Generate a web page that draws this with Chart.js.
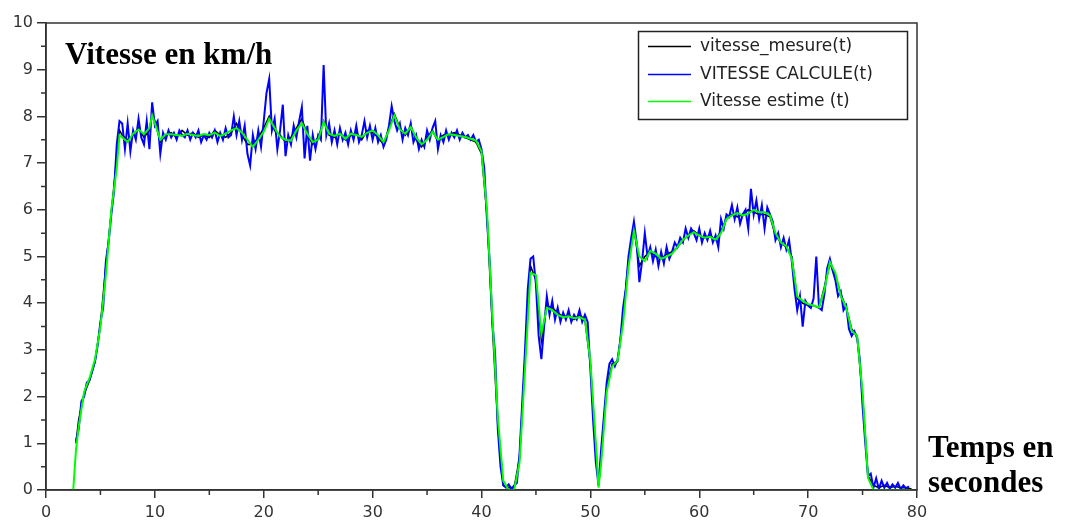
<!DOCTYPE html>
<html lang="fr">
<head>
<meta charset="UTF-8">
<title>Vitesse en km/h</title>
<style>
  html, body { margin: 0; padding: 0; background: #fff; }
</style>
</head>
<body>

<canvas id="myChart" width="1065" height="521"></canvas>

<script src="https://cdn.jsdelivr.net/npm/chart.js@4.4.1/dist/chart.umd.min.js"></script>
<script>
// temps (s) pour vitesse_mesure et Vitesse estime
var timeCoarse = [
  2.5, 2.75, 3, 3.5, 4, 4.5, 5, 5.5, 6, 6.5, 6.75, 7, 7.5, 8, 8.5, 9, 9.5, 9.75, 10,
  10.5, 11, 11.5, 12, 12.5, 13, 13.5, 14, 14.5, 15, 15.5, 16, 16.5, 17, 17.5, 18, 18.5, 19, 19.5, 20,
  20.5, 21, 21.5, 22, 22.5, 23, 23.5, 24, 24.5, 25, 25.5, 26, 26.5, 27, 27.5, 28, 28.5, 29, 29.5, 30,
  30.5, 31, 31.5, 32, 32.5, 33, 33.5, 34, 34.5, 35, 35.5, 36, 36.5, 37, 37.5, 38, 38.5, 39, 39.5, 40,
  40.5, 41, 41.5, 42, 42.5, 43, 43.5, 44, 44.5, 45, 45.5, 46, 46.5, 47, 47.5, 48, 48.5, 49, 49.5, 50,
  50.5, 50.75, 51, 51.5, 52, 52.5, 53, 53.5, 54, 54.5, 55, 55.5, 56, 56.5, 57, 57.5, 58, 58.5, 59, 59.5, 60,
  60.5, 61, 61.5, 62, 62.5, 63, 63.5, 64, 64.5, 65, 65.5, 66, 66.5, 67, 67.5, 68, 68.5, 69, 69.5, 70,
  70.5, 71, 71.5, 72, 72.5, 73, 73.5, 74, 74.5, 75, 75.5, 76, 76.5, 77, 77.5, 78, 78.5, 79, 79.5
];

var vitesseMesure = [
  null, 1.0, 1.5, 2.05, 2.35, 2.75, 3.55, 4.8, 5.95, 7.1, 7.7, 7.6, 7.5, 7.6, 7.75, 7.55, 7.7, 8.05, 7.9,
  7.45, 7.6, 7.65, 7.55, 7.7, 7.6, 7.65, 7.55, 7.6, 7.55, 7.7, 7.6, 7.55, 7.65, 7.85, 7.6, 7.4, 7.4, 7.55, 7.75,
  8.0, 7.7, 7.6, 7.45, 7.55, 7.75, 7.95, 7.6, 7.4, 7.55, 7.9, 7.6, 7.55, 7.65, 7.5, 7.6, 7.65, 7.5, 7.7, 7.65,
  7.55, 7.4, 7.75, 8.05, 7.75, 7.6, 7.8, 7.5, 7.35, 7.55, 7.7, 7.45, 7.6, 7.6, 7.65, 7.6, 7.55, 7.5, 7.45, 7.2,
  5.9, 3.5, 1.4, 0.1, 0.05, 0.05, 0.7, 2.8, 4.8, 4.5, 3.2, 3.95, 3.9, 3.8, 3.7, 3.75, 3.65, 3.75, 3.65, 2.7,
  0.9, 0.1, 0.7, 2.2, 2.7, 2.75, 3.7, 4.9, 5.6, 4.8, 5.0, 5.1, 5.0, 4.95, 5.05, 5.1, 5.2, 5.35, 5.45, 5.55, 5.45,
  5.4, 5.45, 5.35, 5.55, 5.8, 5.9, 5.85, 5.9, 6.0, 5.95, 5.9, 5.9, 5.85, 5.45, 5.3, 5.2, 5.0, 4.1, 4.0, 3.95,
  3.95, 3.9, 4.35, 4.85, 4.6, 4.2, 3.9, 3.45, 3.3, 2.0, 0.3, 0.1, 0.05, 0.1, 0.05, 0.08, 0.05, 0.05, 0.02
];

var vitesseEstime = [
  0, 0.85, 1.35, 2.1, 2.4, 2.8, 3.5, 4.6, 6.0, 6.9, 7.6, 7.55, 7.45, 7.63, 7.72, 7.62, 7.75, 8.02, 7.85,
  7.5, 7.62, 7.62, 7.6, 7.58, 7.63, 7.6, 7.58, 7.62, 7.6, 7.65, 7.58, 7.63, 7.7, 7.75, 7.65, 7.5, 7.35, 7.5, 7.67,
  7.95, 7.75, 7.56, 7.5, 7.48, 7.7, 7.85, 7.63, 7.45, 7.5, 7.88, 7.63, 7.58, 7.63, 7.52, 7.63, 7.6, 7.56, 7.65, 7.7,
  7.6, 7.45, 7.7, 8.02, 7.72, 7.63, 7.77, 7.55, 7.4, 7.5, 7.67, 7.5, 7.56, 7.62, 7.6, 7.58, 7.56, 7.52, 7.48, 7.25,
  6.0, 3.7, 1.55, 0.2, 0.0, 0.0, 0.6, 2.6, 4.65, 4.6, 3.35, 3.9, 3.85, 3.75, 3.7, 3.72, 3.68, 3.7, 3.65, 2.77,
  1.0, 0.05, 0.6, 2.1, 2.65, 2.77, 3.55, 4.77, 5.55, 5.0, 4.9, 5.12, 5.06, 4.95, 5.0, 5.06, 5.2, 5.36, 5.45, 5.52, 5.45,
  5.4, 5.42, 5.36, 5.5, 5.8, 5.88, 5.93, 5.88, 5.92, 6.0, 5.95, 5.95, 5.88, 5.5, 5.3, 5.22, 4.95, 4.15, 4.05, 3.98,
  3.95, 3.91, 4.3, 4.88, 4.65, 4.15, 3.91, 3.41, 3.3, 2.1, 0.26, 0, 0, 0, 0, 0, 0, 0, 0
];

// temps (s) pour VITESSE CALCULE, pas de 0.25 s
var timeFine = [
  2.75, 3, 3.25, 3.5, 3.75, 4, 4.25, 4.5, 4.75, 5, 5.25, 5.5, 5.75, 6, 6.25, 6.5, 6.75, 7, 7.25, 7.5,
  7.75, 8, 8.25, 8.5, 8.75, 9, 9.25, 9.5, 9.75, 10, 10.25, 10.5, 10.75, 11, 11.25, 11.5, 11.75, 12, 12.25, 12.5,
  12.75, 13, 13.25, 13.5, 13.75, 14, 14.25, 14.5, 14.75, 15, 15.25, 15.5, 15.75, 16, 16.25, 16.5, 16.75, 17, 17.25, 17.5,
  17.75, 18, 18.25, 18.5, 18.75, 19, 19.25, 19.5, 19.75, 20, 20.25, 20.5, 20.75, 21, 21.25, 21.5, 21.75, 22, 22.25, 22.5,
  22.75, 23, 23.25, 23.5, 23.75, 24, 24.25, 24.5, 24.75, 25, 25.25, 25.5, 25.75, 26, 26.25, 26.5, 26.75, 27, 27.25, 27.5,
  27.75, 28, 28.25, 28.5, 28.75, 29, 29.25, 29.5, 29.75, 30, 30.25, 30.5, 30.75, 31, 31.25, 31.5, 31.75, 32, 32.25, 32.5,
  32.75, 33, 33.25, 33.5, 33.75, 34, 34.25, 34.5, 34.75, 35, 35.25, 35.5, 35.75, 36, 36.25, 36.5, 36.75, 37, 37.25, 37.5,
  37.75, 38, 38.25, 38.5, 38.75, 39, 39.25, 39.5, 39.75, 40, 40.25, 40.5, 40.75, 41, 41.25, 41.5, 41.75, 42, 42.25, 42.5,
  42.75, 43, 43.25, 43.5, 43.75, 44, 44.25, 44.5, 44.75, 45, 45.25, 45.5, 45.75, 46, 46.25, 46.5, 46.75, 47, 47.25, 47.5,
  47.75, 48, 48.25, 48.5, 48.75, 49, 49.25, 49.5, 49.75, 50, 50.25, 50.5, 50.75, 51, 51.25, 51.5, 51.75, 52, 52.25, 52.5,
  52.75, 53, 53.25, 53.5, 53.75, 54, 54.25, 54.5, 54.75, 55, 55.25, 55.5, 55.75, 56, 56.25, 56.5, 56.75, 57, 57.25, 57.5,
  57.75, 58, 58.25, 58.5, 58.75, 59, 59.25, 59.5, 59.75, 60, 60.25, 60.5, 60.75, 61, 61.25, 61.5, 61.75, 62, 62.25, 62.5,
  62.75, 63, 63.25, 63.5, 63.75, 64, 64.25, 64.5, 64.75, 65, 65.25, 65.5, 65.75, 66, 66.25, 66.5, 66.75, 67, 67.25, 67.5,
  67.75, 68, 68.25, 68.5, 68.75, 69, 69.25, 69.5, 69.75, 70, 70.25, 70.5, 70.75, 71, 71.25, 71.5, 71.75, 72, 72.25, 72.5,
  72.75, 73, 73.25, 73.5, 73.75, 74, 74.25, 74.5, 74.75, 75, 75.25, 75.5, 75.75, 76, 76.25, 76.5, 76.75, 77, 77.25, 77.5,
  77.75, 78, 78.25, 78.5, 78.75, 79, 79.25
];

var vitesseCalcule = [
  1.05, 1.3, 1.9, 2.0, 2.3, 2.35, 2.55, 2.75, 3.1, 3.6, 3.9, 4.9, 5.3, 5.9, 6.4, 7.4, 7.9, 7.85, 7.3, 7.85,
  7.25, 7.7, 7.5, 7.95, 7.55, 7.4, 7.9, 7.3, 8.3, 7.8, 7.9, 7.2, 7.65, 7.5, 7.7, 7.55, 7.65, 7.5, 7.7, 7.6,
  7.55, 7.7, 7.5, 7.65, 7.55, 7.7, 7.45, 7.6, 7.5, 7.65, 7.55, 7.7, 7.45, 7.65, 7.5, 7.75, 7.55, 7.6, 8.0, 7.6,
  7.9, 7.5, 7.8, 7.2, 6.95, 7.6, 7.3, 7.7, 7.35, 7.9, 8.5, 8.8, 7.7, 7.95, 7.3, 7.7, 8.25, 7.15, 7.6, 7.4,
  7.8, 7.55, 7.9, 8.2, 7.1, 7.8, 7.05, 7.6, 7.3, 7.6, 7.5, 9.1, 7.6, 7.85, 7.45, 7.7, 7.4, 7.75, 7.5, 7.65,
  7.4, 7.7, 7.5, 7.8, 7.45, 7.6, 7.9, 7.55, 7.8, 7.5, 7.75, 7.45, 7.6, 7.35, 7.5, 7.8, 8.22, 7.9, 7.7, 7.85,
  7.5, 7.75, 7.6, 7.85, 7.45, 7.6, 7.3, 7.5, 7.35, 7.7, 7.5, 7.75, 7.9, 7.3, 7.6, 7.45, 7.7, 7.5, 7.65, 7.55,
  7.7, 7.5, 7.65, 7.55, 7.6, 7.5, 7.6, 7.45, 7.5, 7.3, 6.9, 5.8, 4.9, 3.6, 2.9, 1.3, 0.5, 0.1, 0.05, 0.12,
  0.02, 0.1, 0.15, 0.8, 1.9, 3.0, 4.3, 4.95, 5.0, 4.4, 3.3, 2.8, 3.5, 4.15, 3.75, 4.05, 3.65, 3.9, 3.6, 3.8,
  3.65, 3.85, 3.6, 3.75, 3.65, 3.85, 3.6, 3.75, 3.6, 2.6, 1.5, 0.6, 0.1, 0.9, 1.6, 2.3, 2.7, 2.8, 2.65, 2.8,
  3.2, 3.9, 4.3, 5.0, 5.4, 5.75, 5.3, 4.45, 4.9, 5.5, 5.0, 5.2, 4.9, 5.15, 4.8, 5.1, 4.85, 5.2, 4.95, 5.1,
  5.3, 5.2, 5.4, 5.3, 5.6, 5.4, 5.6, 5.5, 5.35, 5.6, 5.3, 5.5, 5.35, 5.55, 5.3, 5.45, 5.2, 5.8, 5.6, 5.9,
  5.85, 6.1, 5.8, 6.05, 5.7, 5.9, 6.0, 5.6, 6.45, 5.9, 6.2, 5.8, 6.1, 5.6, 6.05, 5.9, 5.75, 5.35, 5.5, 5.2,
  5.4, 5.15, 5.35, 4.9, 4.3, 3.85, 4.15, 3.5, 4.05, 3.95, 3.9, 4.1, 5.0, 3.9, 3.85, 4.2, 4.75, 4.95, 4.7, 4.5,
  4.15, 4.25, 3.85, 3.95, 3.45, 3.3, 3.4, 3.25, 2.8, 1.8, 1.0, 0.3, 0.35, 0.05, 0.25, 0.02, 0.2, 0.05, 0.15, 0.03,
  0.12, 0.05, 0.15, 0.02, 0.1, 0.03, 0.08
];

var seriesNames = ['vitesse_mesure(t)', 'VITESSE CALCULE(t)', 'Vitesse estime (t)'];
var seriesColors = ['#000000', '#0000ff', '#00ff00'];

function toPoints(ts, vs) {
    return ts.map(function (t, i) { return { x: t, y: vs[i] }; });
}

function isMajorY(v) { return Number.isInteger(v); }
function isMajorX(v) { return v % 10 === 0; }

// cadre, petites graduations, legende encadree et textes des axes
var decorPlugin = {
    id: 'decor',
    afterDraw: function (chart) {
        var c = chart.ctx;
        var a = chart.chartArea;
        c.save();
        c.strokeStyle = '#333';
        c.lineWidth = 1.5;
        c.strokeRect(a.left, a.top, a.right - a.left, a.bottom - a.top);

        // petites graduations
        c.beginPath();
        chart.scales.y.ticks.forEach(function (t) {
            if (isMajorY(t.value)) return;
            var py = chart.scales.y.getPixelForValue(t.value);
            c.moveTo(a.left - 5, py);
            c.lineTo(a.left, py);
        });
        chart.scales.x.ticks.forEach(function (t) {
            if (isMajorX(t.value)) return;
            var px = chart.scales.x.getPixelForValue(t.value);
            c.moveTo(px, a.bottom);
            c.lineTo(px, a.bottom + 5);
        });
        c.stroke();

        // legende
        c.strokeStyle = '#222';
        c.strokeRect(638.5, 31.5, 269, 88);
        var rows = [46.5, 74.5, 101.5];
        c.font = '17px "DejaVu Sans", Verdana, sans-serif';
        c.textBaseline = 'middle';
        c.textAlign = 'left';
        for (var i = 0; i < seriesNames.length; i++) {
            c.strokeStyle = seriesColors[i];
            c.lineWidth = 1.5;
            c.beginPath();
            c.moveTo(648, rows[i]);
            c.lineTo(691, rows[i]);
            c.stroke();
            c.fillStyle = '#222';
            c.fillText(seriesNames[i], 700, rows[i]);
        }

        c.fillStyle = '#000';
        c.textBaseline = 'alphabetic';
        c.font = 'bold 31px "Liberation Serif", "Times New Roman", serif';
        c.fillText('Vitesse en km/h', 65, 64);
        c.fillText('Temps en', 928, 457);
        c.fillText('secondes', 928, 492);
        c.restore();
    }
};

var tickFont = { family: '"DejaVu Sans", Verdana, sans-serif', size: 16 };

var ctx = document.getElementById('myChart').getContext('2d');
var chart = new Chart(ctx, {
    type: 'line',
    data: {
        datasets: [{
            label: seriesNames[0],
            data: toPoints(timeCoarse, vitesseMesure),
            borderColor: seriesColors[0],
            borderWidth: 1.6,
            order: 2
        }, {
            label: seriesNames[1],
            data: toPoints(timeFine, vitesseCalcule),
            borderColor: seriesColors[1],
            borderWidth: 2,
            order: 1
        }, {
            label: seriesNames[2],
            data: toPoints(timeCoarse, vitesseEstime),
            borderColor: seriesColors[2],
            borderWidth: 2,
            order: 0
        }]
    },
    options: {
        responsive: false,
        animation: false,
        layout: { padding: { top: 23, right: 148, left: 0, bottom: 0 } },
        elements: {
            point: { radius: 0 },
            line: { tension: 0, fill: false }
        },
        plugins: {
            legend: { display: false },
            tooltip: { enabled: false }
        },
        scales: {
            x: {
                type: 'linear',
                min: 0,
                max: 80,
                afterFit: function (s) { s.height = 31; },
                border: { color: '#333', width: 1.5 },
                grid: {
                    drawOnChartArea: false, drawTicks: true, tickLength: 8, lineWidth: 1.5,
                    tickColor: function (c) { return c.tick && isMajorX(c.tick.value) ? '#333' : 'rgba(0,0,0,0)'; }
                },
                ticks: {
                    stepSize: 5,
                    autoSkip: false,
                    maxRotation: 0,
                    padding: 5,
                    color: '#333',
                    font: tickFont,
                    callback: function (v) { return isMajorX(v) ? String(v) : ''; }
                }
            },
            y: {
                min: 0,
                max: 10,
                afterFit: function (s) { s.width = 46; },
                border: { color: '#333', width: 1.5 },
                grid: {
                    drawOnChartArea: false, drawTicks: true, tickLength: 9, lineWidth: 1.5,
                    tickColor: function (c) { return c.tick && isMajorY(c.tick.value) ? '#333' : 'rgba(0,0,0,0)'; }
                },
                ticks: {
                    stepSize: 0.5,
                    autoSkip: false,
                    padding: 4,
                    color: '#333',
                    font: tickFont,
                    callback: function (v) { return isMajorY(v) ? String(v) : ''; }
                }
            }
        }
    },
    plugins: [decorPlugin]
});
</script>
</body>
</html>
